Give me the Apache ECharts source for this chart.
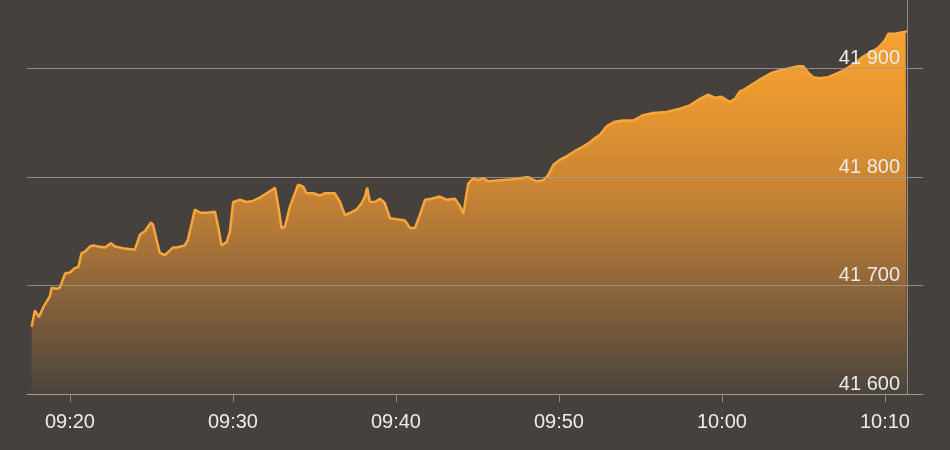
<!DOCTYPE html>
<html>
<head>
<meta charset="utf-8">
<title>Intraday index</title>
<script src="https://cdn.jsdelivr.net/npm/echarts@6/dist/echarts.min.js"></script>
<style>
  html, body { margin: 0; padding: 0; background: #46413d; }
  #chart { width: 950px; height: 450px; }
</style>
</head>
<body>
<div id="chart"></div>
<script>
  var times = [
    '09:17:39', '09:17:51', '09:18:06', '09:18:22', '09:18:46', '09:18:53', '09:19:11', '09:19:23', '09:19:42', '09:20:00',
    '09:20:18', '09:20:31', '09:20:43', '09:20:55', '09:21:14', '09:21:26', '09:21:44', '09:22:09', '09:22:31', '09:22:46',
    '09:23:22', '09:23:59', '09:24:18', '09:24:36', '09:24:58', '09:25:06', '09:25:19', '09:25:31', '09:25:50', '09:26:19',
    '09:26:33', '09:27:03', '09:27:14', '09:27:40', '09:27:59', '09:28:23', '09:28:54', '09:29:06', '09:29:18', '09:29:37',
    '09:29:49', '09:30:01', '09:30:26', '09:30:50', '09:31:14', '09:31:39', '09:32:04', '09:32:35', '09:32:47', '09:32:59',
    '09:33:11', '09:33:30', '09:34:00', '09:34:19', '09:34:31', '09:34:56', '09:35:20', '09:35:39', '09:36:15', '09:36:34',
    '09:36:52', '09:37:11', '09:37:35', '09:37:54', '09:38:06', '09:38:14', '09:38:24', '09:38:43', '09:39:01', '09:39:19',
    '09:39:38', '09:40:03', '09:40:33', '09:40:52', '09:41:10', '09:41:28', '09:41:47', '09:42:11', '09:42:42', '09:43:07',
    '09:43:37', '09:43:56', '09:44:08', '09:44:26', '09:44:45', '09:45:03', '09:45:21', '09:45:40', '09:46:23', '09:47:12',
    '09:48:07', '09:48:20', '09:48:38', '09:49:02', '09:49:21', '09:49:39', '09:50:04', '09:50:28', '09:50:59', '09:51:29',
    '09:51:54', '09:52:13', '09:52:31', '09:52:56', '09:53:26', '09:53:57', '09:54:34', '09:55:10', '09:55:47', '09:56:36',
    '09:57:25', '09:58:02', '09:58:39', '09:59:10', '09:59:34', '09:59:59', '10:00:17', '10:00:29', '10:00:48', '10:01:06',
    '10:01:25', '10:01:49', '10:02:14', '10:03:03', '10:03:27', '10:04:04', '10:04:41', '10:04:59', '10:05:18', '10:05:36',
    '10:06:01', '10:06:31', '10:07:08', '10:07:33', '10:08:10', '10:08:40', '10:09:35', '10:10:00', '10:10:12', '10:10:37',
    '10:10:55', '10:11:16', '10:11:21'
  ];
  var values = [
    41662, 41677, 41671, 41680, 41690, 41698, 41697, 41698, 41711, 41712,
    41716, 41717, 41730, 41731, 41736, 41737, 41736, 41735, 41739, 41736,
    41734, 41733, 41747, 41750, 41758, 41756, 41742, 41730, 41728, 41735,
    41735, 41737, 41742, 41770, 41767, 41767, 41768, 41754, 41737, 41740,
    41750, 41777, 41779, 41777, 41778, 41781, 41785, 41790, 41773, 41753,
    41754, 41773, 41793, 41791, 41785, 41785, 41783, 41785, 41785, 41777,
    41765, 41767, 41770, 41776, 41782, 41790, 41777, 41777, 41780, 41776,
    41762, 41761, 41760, 41753, 41753, 41765, 41779, 41780, 41782, 41779,
    41780, 41773, 41766, 41794, 41799, 41797, 41799, 41796, 41797, 41798,
    41800, 41798, 41796, 41797, 41802, 41811, 41816, 41819, 41824, 41828,
    41832, 41836, 41839, 41847, 41851, 41852, 41852, 41857, 41859, 41860,
    41863, 41866, 41872, 41876, 41873, 41874, 41871, 41869, 41872, 41879,
    41881, 41885, 41889, 41896, 41898, 41900, 41902, 41902, 41896, 41892,
    41891, 41892, 41896, 41899, 41905, 41911, 41919, 41926, 41932, 41932,
    41933, 41934, 41934
  ];
  var xTicks = ['09:20', '09:30', '09:40', '09:50', '10:00', '10:10'];
  var yTicks = [41600, 41700, 41800, 41900];
  var xStart = '09:17:22';
  var xEnd = '10:12:20';

  // clock string -> seconds since midnight
  function secs (t) {
    var p = t.split(':');
    return (+p[0]) * 3600 + (+p[1]) * 60 + (+(p[2] || 0));
  }
  function pad (n) {
    return n < 10 ? '0' + n : '' + n;
  }

  var seriesData = times.map(function (t, i) {
    return [secs(t), values[i]];
  });
  var xTickValues = xTicks.map(secs);
  var lastTime = secs(times[times.length - 1]);

  var chart = echarts.init(document.getElementById('chart'));
  var option = {
    backgroundColor: '#46413d',
    animation: false,
    textStyle: {
      fontFamily: 'Liberation Sans, Arial, sans-serif'
    },
    grid: {
      left: 27,
      right: 27,
      top: -40,
      bottom: 56,
      outerBoundsMode: 'none'
    },
    xAxis: {
      type: 'value',
      min: secs(xStart),
      max: secs(xEnd),
      axisLine: { show: true, lineStyle: { color: '#8f8a85', width: 1 } },
      axisTick: { show: true, length: 8, customValues: xTickValues, lineStyle: { color: '#8f8a85' } },
      splitLine: { show: false },
      axisLabel: {
        color: '#ececec',
        fontSize: 20,
        margin: 18,
        customValues: xTickValues,
        formatter: function (v) {
          return pad(Math.floor(v / 3600)) + ':' + pad(Math.floor(v % 3600 / 60));
        }
      }
    },
    yAxis: {
      type: 'value',
      position: 'right',
      min: yTicks[0],
      max: 42000,
      interval: 100,
      z: 5,
      axisLine: { show: false },
      axisTick: { show: false },
      splitLine: { lineStyle: { color: '#a39d97', width: 1, opacity: 0.8 } },
      axisLabel: {
        inside: true,
        margin: 23,
        color: '#ececec',
        fontSize: 20,
        verticalAlign: 'bottom',
        formatter: function (v) {
          return String(v).replace(/\B(?=(\d{3})+$)/g, ' ');
        }
      }
    },
    series: [
      {
        type: 'line',
        data: seriesData,
        showSymbol: false,
        lineStyle: { color: '#f8a63a', width: 2.5 },
        areaStyle: {
          opacity: 1,
          color: new echarts.graphic.LinearGradient(0, 0, 0, 1, [
            { offset: 0, color: '#f6a132' },
            { offset: 0.19, color: '#e9982f' },
            { offset: 0.465, color: '#c48236' },
            { offset: 0.74, color: '#87613a' },
            { offset: 1, color: '#4b443e' }
          ])
        },
        markLine: {
          silent: true,
          symbol: 'none',
          label: { show: false },
          lineStyle: { color: '#8f8a85', width: 1, type: 'solid' },
          data: [{ xAxis: lastTime }]
        }
      }
    ]
  };
  chart.setOption(option);
</script>
</body>
</html>
